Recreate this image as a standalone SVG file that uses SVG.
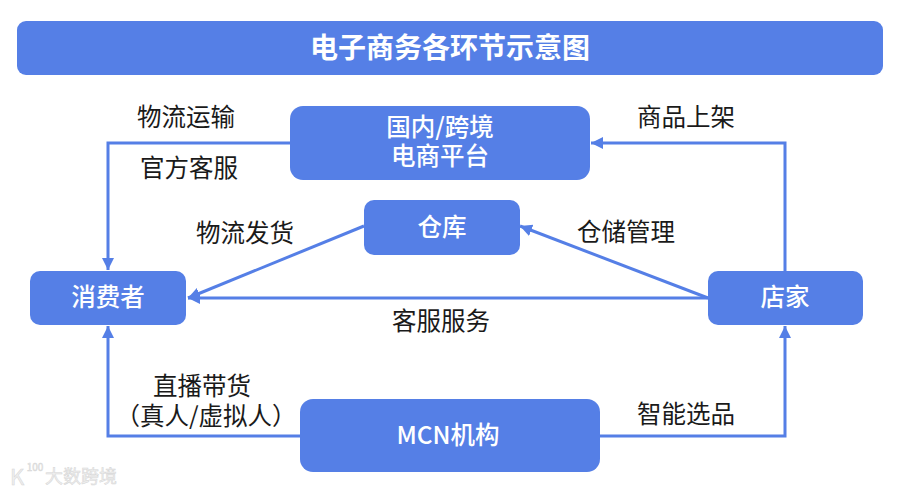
<svg xmlns="http://www.w3.org/2000/svg" width="900" height="492" viewBox="0 0 900 492">
<style>
text{font-family:"Noto Sans CJK SC","Noto Sans",sans-serif;text-anchor:middle;dominant-baseline:central}
.n{fill:#557fe6}
.w{fill:#fff;font-size:24.500px;font-weight:500}
.t{fill:#fff;font-size:28px;font-weight:700}
.l{fill:#1a1a1a;font-size:24.500px}
.c{fill:none;stroke:#557fe6;stroke-width:3}
.wm{fill:#efefef;stroke:#d6d6d6;stroke-width:.5}
</style>
<defs>
<marker id="a" markerUnits="userSpaceOnUse" markerWidth="14" markerHeight="14" refX="12" refY="6" orient="auto"><path d="M0 0L12 6L0 12Z" fill="#557fe6"/></marker>
</defs>
<rect width="900" height="492" fill="#fff"/>
<g id="connectors">
<path class="c" marker-end="url(#a)" d="M291 143H108V270"/>
<path class="c" marker-end="url(#a)" d="M785 271V143H591"/>
<path class="c" marker-end="url(#a)" d="M708 298L520 226"/>
<path class="c" marker-end="url(#a)" d="M708 298H188"/>
<path class="c" marker-end="url(#a)" d="M364 226L188 298"/>
<path class="c" marker-end="url(#a)" d="M301 436H108V326"/>
<path class="c" marker-end="url(#a)" d="M600 436H785V326"/>
</g>
<g id="title"><rect class="n" x="17" y="21" width="866" height="54" rx="9"/><text class="t" x="450" y="46">电子商务各环节示意图</text></g>
<g id="platform"><rect class="n" x="290" y="106" width="300" height="74" rx="13"/><text class="w" x="440" y="125">国内/跨境</text><text class="w" x="440" y="154">电商平台</text></g>
<g id="warehouse"><rect class="n" x="364" y="200" width="156" height="55" rx="10"/><text class="w" x="442" y="225">仓库</text></g>
<g id="consumer"><rect class="n" x="30" y="271" width="156" height="54" rx="10"/><text class="w" x="108" y="295">消费者</text></g>
<g id="store"><rect class="n" x="708" y="271" width="155" height="54" rx="10"/><text class="w" x="785" y="295">店家</text></g>
<g id="mcn"><rect class="n" x="300" y="399" width="300" height="73" rx="13"/><text class="w" x="448" y="433">MCN机构</text></g>
<g id="labels">
<text class="l" x="186" y="115">物流运输</text>
<text class="l" x="189" y="166">官方客服</text>
<text class="l" x="245" y="231">物流发货</text>
<text class="l" x="626" y="230">仓储管理</text>
<text class="l" x="686" y="115">商品上架</text>
<text class="l" x="441" y="319">客服服务</text>
<text class="l" x="202" y="384">直播带货</text>
<text class="l" x="206" y="414">（真人/虚拟人）</text>
<text class="l" x="686" y="412">智能选品</text>
</g>
<g id="watermark">
<text class="wm" x="17" y="475" style="font-size:22px">K</text>
<text class="wm" x="35" y="466" style="font-size:10px">100</text>
<text class="wm" x="81" y="475" style="font-size:18px">大数跨境</text>
</g>
</svg>
